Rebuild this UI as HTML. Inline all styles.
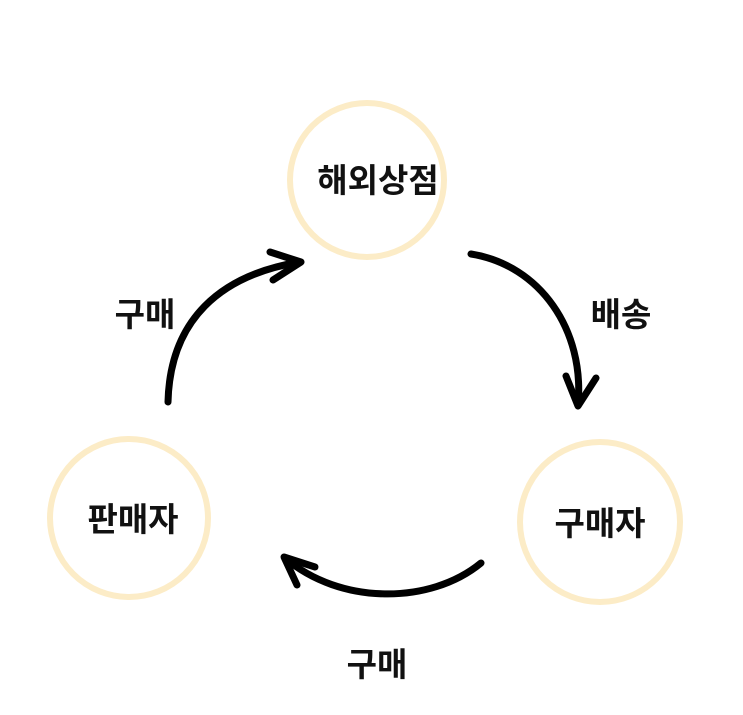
<!DOCTYPE html>
<html><head><meta charset="utf-8"><style>
body{margin:0;background:#fff;width:743px;height:715px;overflow:hidden}
svg{display:block}
text{font-family:"Liberation Sans","Noto Sans CJK KR",sans-serif;font-weight:bold;font-size:33px;fill:#111}
</style></head><body>
<svg width="743" height="715" viewBox="0 0 743 715">
<g fill="none" stroke="#fcecc7" stroke-width="6">
<circle cx="367" cy="180" r="77"/>
<circle cx="129" cy="518" r="79"/>
<circle cx="600" cy="522" r="80"/>
</g>
<g fill="none" stroke="#000" stroke-width="7" stroke-linecap="round" stroke-linejoin="round">
<path d="M168 402 C170 320 220 275 300 262"/>
<path d="M270 252 L301 262 L273 280"/>
<path d="M471 254 C540 265 585 330 578 405"/>
<path d="M566 376 L578 406 L596 378"/>
<path d="M481 563 C430 605 340 605 285 558"/>
<path d="M315 567 L284 557 L297 585"/>
</g>
<text x="378" y="192" text-anchor="middle">해외상점</text>
<text x="133" y="531" text-anchor="middle">판매자</text>
<text x="600" y="535" text-anchor="middle">구매자</text>
<text x="145" y="326" text-anchor="middle">구매</text>
<text x="621" y="326" text-anchor="middle">배송</text>
<text x="377" y="676" text-anchor="middle">구매</text>
</svg>
</body></html>
